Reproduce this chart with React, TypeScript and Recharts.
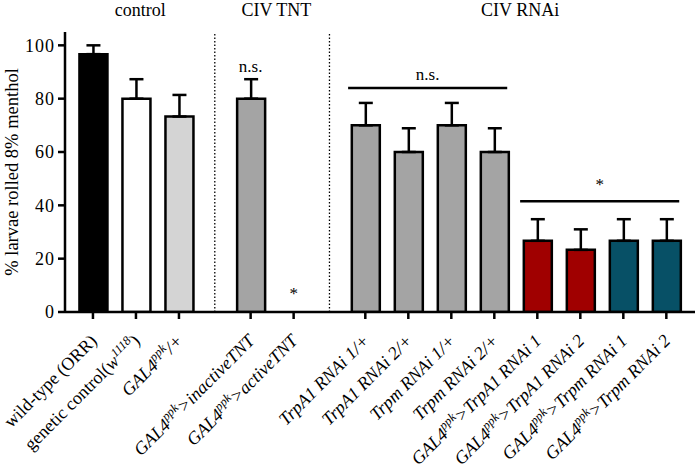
import React from 'react';
import { BarChart, Bar, XAxis, YAxis, Cell, ErrorBar, ReferenceLine, ReferenceDot } from 'recharts';

// genotypes: *italic*, ^superscript^
const GENOTYPES = [
  'wild-type (ORR)',
  'genetic control(*w*^1118^)',
  '*GAL4*^ppk^*/+*',
  '*GAL4*^ppk^*>inactiveTNT*',
  '*GAL4*^ppk^*>activeTNT*',
  '*TrpA1 RNAi 1/+*',
  '*TrpA1 RNAi 2/+*',
  '*Trpm RNAi 1/+*',
  '*Trpm RNAi 2/+*',
  '*GAL4*^ppk^*>TrpA1 RNAi 1*',
  '*GAL4*^ppk^*>TrpA1 RNAi 2*',
  '*GAL4*^ppk^*>Trpm RNAi 1*',
  '*GAL4*^ppk^*>Trpm RNAi 2*',
];
const GROUP_NAMES = ['control', 'CIV TNT', 'CIV RNAi'];
const GROUP_SIZES = [3, 2, 8];
const PERCENT_ROLLED = [96.7, 80, 73.3, 80, 0, 70, 60, 70, 60, 26.7, 23.3, 26.7, 26.7];
const SEM = [3.3, 7.3, 8.1, 7.3, 0, 8.4, 8.9, 8.4, 8.9, 8.1, 7.7, 8.1, 8.1];
const Y_TICKS = [0, 20, 40, 60, 80, 100];

const BAR_COLORS = ['#000000', '#ffffff', '#d4d4d4', '#a4a4a4', '#a4a4a4', '#a4a4a4', '#a4a4a4', '#a4a4a4', '#a4a4a4', '#a00000', '#a00000', '#075066', '#075066'];
const FONT = '"Liberation Serif", "Times New Roman", serif';
const GROUP_GAP = 2 / 3;

// group index for each bar, and x position with extra gap between groups
const groupOf: number[] = [];
GROUP_SIZES.forEach((n, g) => { for (let k = 0; k < n; k++) groupOf.push(g); });
const positions = GENOTYPES.map((_, i) => i + groupOf[i] * GROUP_GAP);

const data = GENOTYPES.map((_, i) => ({
  pos: positions[i],
  value: PERCENT_ROLLED[i],
  err: [0, SEM[i]],
}));

const groupStart = (g: number) => GROUP_SIZES.slice(0, g).reduce((a, b) => a + b, 0);
const groupFirst = (g: number) => positions[groupStart(g)];
const groupLast = (g: number) => positions[groupStart(g) + GROUP_SIZES[g] - 1];
const dividers = [1, 2].map(g => (groupLast(g - 1) + groupFirst(g)) / 2);

const parse = (s: string) =>
  s.split(/(\*[^*]+\*|\^[^^]+\^)/).filter(Boolean).map(t => {
    if (t.startsWith('*')) return { text: t.slice(1, -1), italic: true, sup: false };
    if (t.startsWith('^')) return { text: t.slice(1, -1), italic: true, sup: true };
    return { text: t, italic: false, sup: false };
  });

const GenotypeTick = (props: any) => {
  const { x, y, payload } = props;
  const idx = positions.findIndex(p => Math.abs(p - payload.value) < 1e-6);
  if (idx < 0) return null;
  const segs = parse(GENOTYPES[idx]);
  let prevSup = false;
  return (
    <g transform={`translate(${x + 5},${y + 21})`}>
      <text transform="rotate(-45)" textAnchor="end" fontSize={18} fontFamily={FONT} fill="#000">
        {segs.map((s, i) => {
          const dy = s.sup ? -7 : prevSup ? 7 : 0;
          prevSup = s.sup;
          return (
            <tspan key={i} dy={dy} fontStyle={s.italic ? 'italic' : 'normal'} fontSize={s.sup ? 12.5 : 18}>
              {s.text}
            </tspan>
          );
        })}
      </text>
    </g>
  );
};

const textLabel = (value: string, dy: number, size = 17) => (props: any) => {
  const vb = props.viewBox;
  return (
    <text x={vb.x + (vb.width || 0) / 2} y={vb.y + dy} textAnchor="middle" fontSize={size} fontFamily={FONT} fill="#000">
      {value}
    </text>
  );
};

const YLabel = (props: any) => {
  const vb = props.viewBox;
  const cx = vb.x + 3;
  const cy = vb.y + vb.height / 2;
  return (
    <text transform={`translate(${cx},${cy}) rotate(-90)`} textAnchor="middle" fontSize={18.5} fontFamily={FONT} fill="#000">
      % larvae rolled 8% menthol
    </text>
  );
};

const App = () => (
  <div style={{ position: 'absolute', left: 0, top: 0 }}>
    <BarChart width={699} height={473} data={data} margin={{ top: 32, right: 4, bottom: 0, left: 15 }}>
      <XAxis
        dataKey="pos"
        type="number"
        domain={[-0.65, 14]}
        ticks={positions}
        interval={0}
        height={161}
        tick={<GenotypeTick />}
        axisLine={{ stroke: '#000', strokeWidth: 2.5 }}
        tickLine={{ stroke: '#000', strokeWidth: 2.5 }}
        tickSize={7}
        allowDataOverflow
      />
      <YAxis
        domain={[0, 105]}
        ticks={Y_TICKS}
        width={50}
        axisLine={{ stroke: '#000', strokeWidth: 2.5 }}
        tickLine={{ stroke: '#000', strokeWidth: 2.5 }}
        tickSize={7}
        tickMargin={3}
        tick={{ fill: '#000', fontSize: 18, fontFamily: FONT, letterSpacing: 1 }}
        label={<YLabel />}
        allowDataOverflow
      />
      {dividers.map((d, i) => (
        <ReferenceLine key={i} x={d} stroke="#000" strokeWidth={1.3} strokeDasharray="1.5 2" />
      ))}
      <Bar dataKey="value" barSize={28} stroke="#000" strokeWidth={2.5} isAnimationActive={false}>
        {data.map((_, i) => <Cell key={i} fill={BAR_COLORS[i]} />)}
        <ErrorBar dataKey="err" direction="y" width={7} stroke="#000" strokeWidth={2.5} isAnimationActive={false} />
      </Bar>
      {GROUP_NAMES.map((name, g) => (
        <ReferenceDot
          key={name}
          x={(groupFirst(g) + groupLast(g)) / 2 + 0.1}
          y={105}
          r={0}
          ifOverflow="visible"
          label={textLabel(name, -16, 18)}
        />
      ))}
      <ReferenceDot x={positions[3]} y={90} r={0} label={textLabel('n.s.', 0, 17)} />
      <ReferenceDot x={positions[4]} y={5} r={0} label={textLabel('*', 0, 17)} />
      <ReferenceLine
        segment={[{ x: positions[5] - 0.4, y: 84 }, { x: positions[8] + 0.3, y: 84 }]}
        stroke="#000"
        strokeWidth={2.5}
        label={textLabel('n.s.', -8, 17)}
      />
      <ReferenceLine
        segment={[{ x: positions[9] - 0.4, y: 41.5 }, { x: positions[12] + 0.3, y: 41.5 }]}
        stroke="#000"
        strokeWidth={2.5}
        label={textLabel('*', -11, 17)}
      />
    </BarChart>
  </div>
);

export default App;
